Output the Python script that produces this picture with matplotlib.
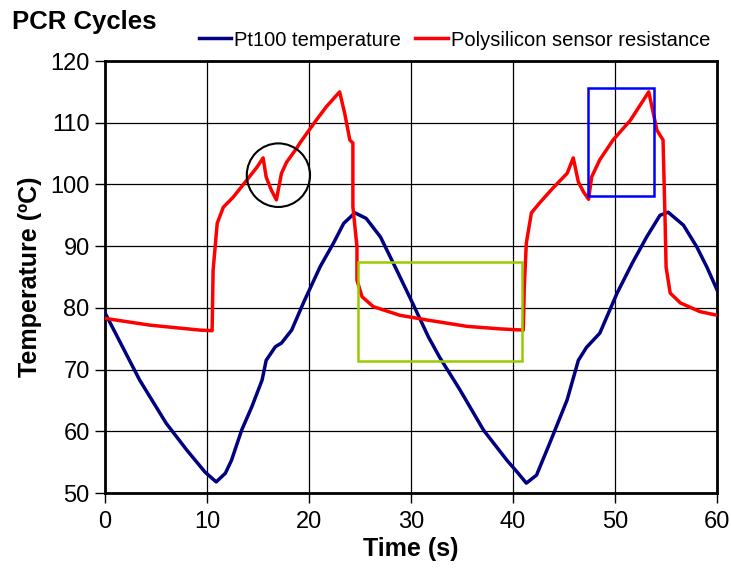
import matplotlib
matplotlib.use('Agg')
import matplotlib.pyplot as plt
from matplotlib.patches import Ellipse, Rectangle

plt.rcParams['font.family'] = ['Liberation Sans', 'DejaVu Sans']

# Pt100 reference temperature (s, degC)
pt_t = [0.0, 3.4, 6.0, 8.0, 9.8, 10.9, 11.8, 12.4, 13.4, 14.4, 15.4, 15.8,
        16.7, 17.3, 18.3, 19.5, 21.1, 22.4, 23.4, 24.5, 25.6, 27.0, 28.6,
        30.2, 31.7, 32.8, 34.8, 37.1, 39.4, 40.5, 41.3, 42.3, 43.6, 45.3,
        46.4, 47.2, 48.5, 50.2, 51.7, 53.1, 54.4, 55.2, 56.7, 58.0, 59.0,
        60.0]
pt_temp = [79.2, 68.3, 61.3, 57.0, 53.4, 51.8, 53.2, 55.3, 60.2, 64.0,
           68.3, 71.5, 73.7, 74.3, 76.4, 81.0, 86.7, 90.5, 93.7, 95.4, 94.5,
           91.5, 86.1, 80.6, 75.3, 72.0, 66.7, 60.2, 55.3, 53.2, 51.6, 52.9,
           58.1, 65.1, 71.5, 73.6, 75.9, 82.4, 87.3, 91.5, 95.0, 95.5, 93.4,
           89.9, 86.6, 82.9]

# polysilicon sensor reading
ps_t = [0.0, 4.4, 9.3, 10.5, 10.6, 11.0, 11.6, 12.6, 13.9, 14.9, 15.5, 15.8,
        16.3, 16.8, 17.3, 17.8, 18.8, 19.1, 20.7, 21.7, 23.0, 23.5, 24.0,
        24.3, 24.3, 24.7, 24.7, 25.2, 26.3, 28.9, 31.7, 35.5, 38.7, 41.0,
        41.1, 41.3, 41.8, 42.6, 43.9, 45.3, 45.9, 46.4, 46.9, 47.4, 47.7,
        48.5, 49.8, 51.5, 53.3, 54.1, 54.7, 54.9, 55.0, 55.4, 56.4, 58.3,
        60.0]
ps_temp = [78.3, 77.2, 76.4, 76.3, 86.1, 93.7, 96.3, 98.0, 100.7, 102.8,
           104.3, 101.2, 99.1, 97.5, 101.8, 103.6, 105.9, 106.7, 110.4,
           112.6, 115.0, 111.5, 107.2, 106.7, 96.4, 89.9, 84.5, 81.8, 80.2,
           78.8, 78.0, 77.0, 76.6, 76.4, 83.4, 90.5, 95.4, 97.0, 99.4, 101.8,
           104.3, 100.4, 98.8, 97.6, 101.2, 104.0, 107.2, 110.4, 115.0, 108.8,
           107.2, 94.2, 86.6, 82.4, 80.8, 79.4, 78.8]

fig = plt.figure(figsize=(7.31, 5.74), dpi=100)
ax = fig.add_axes([0.1436, 0.1411, 0.8374, 0.7526])

ax.plot(pt_t, pt_temp, color='#000080', lw=2.5, label='Pt100 temperature',
        zorder=3)
ax.plot(ps_t, ps_temp, color='#ff0000', lw=2.5,
        label='Polysilicon sensor resistance', zorder=3)

# hand-drawn highlights
ax.add_patch(Ellipse((17.0, 101.5), 6.2, 10.3, fill=False, ec='black',
                     lw=1.5, zorder=4))
ax.add_patch(Rectangle((24.8, 71.4), 16.1, 16.1, fill=False, ec='#99cc00',
                       lw=1.8, zorder=4))
ax.add_patch(Rectangle((47.3, 98.1), 6.5, 17.5, fill=False, ec='#0000ff',
                       lw=1.8, zorder=4))

ax.set_xlim(0, 60)
ax.set_ylim(50, 120)
ax.set_xticks(range(0, 61, 10))
ax.set_yticks(range(50, 121, 10))
ax.grid(color='black', lw=0.9)
ax.set_axisbelow(True)
for s in ax.spines.values():
    s.set_linewidth(2)
ax.tick_params(labelsize=17, length=7, width=1, pad=4)
ax.tick_params(axis='x', pad=6)

ax.set_xlabel('Time (s)', fontsize=18, fontweight='bold', labelpad=3)
ax.set_ylabel('Temperature (ºC)', fontsize=18, fontweight='bold', labelpad=6)

fig.text(12 / 731, 1 - 22 / 574, 'PCR Cycles', fontsize=18.5,
         fontweight='bold', va='center', ha='left')
fig.legend(loc='center right', bbox_to_anchor=(720 / 731, 1 - 40 / 574),
           ncol=2, frameon=False, fontsize=14.5, handlelength=1.6,
           handletextpad=0.15, columnspacing=0.7, borderpad=0)

fig.savefig('out.png', dpi=100)
